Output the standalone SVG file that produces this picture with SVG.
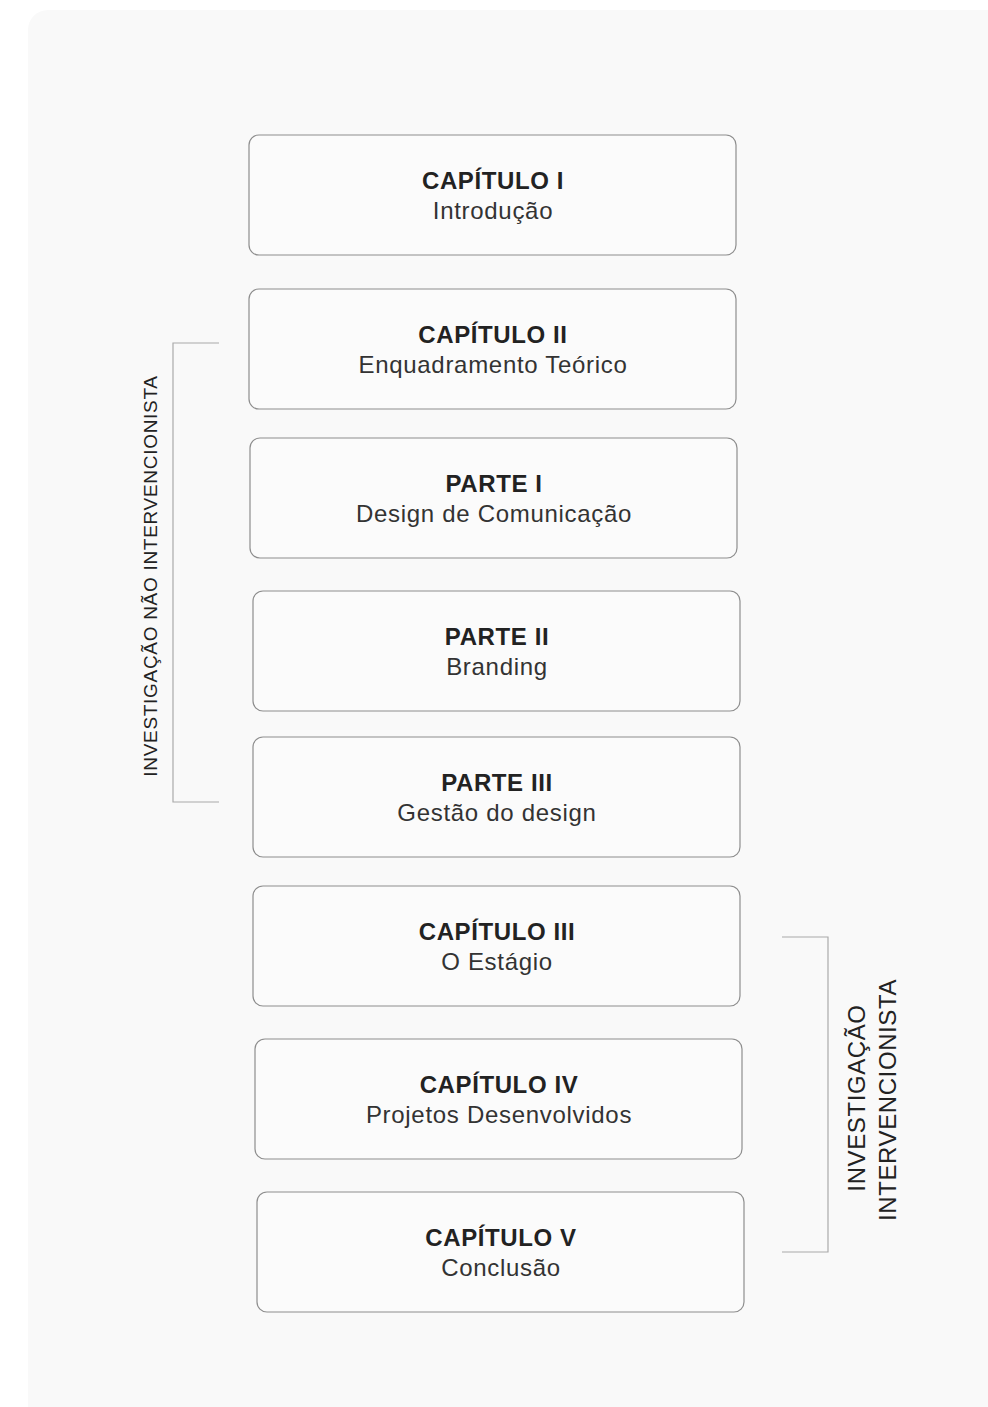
<svg xmlns="http://www.w3.org/2000/svg" width="988" height="1407" viewBox="0 0 988 1407">
<style>
.box{fill:#fbfbfb;stroke:#8e8e8e;stroke-width:1.2}
.t{font-family:"Liberation Sans",Arial,sans-serif;font-size:24px;font-weight:bold;fill:#222;text-anchor:middle;letter-spacing:0.6px}
.s{font-family:"Liberation Sans",Arial,sans-serif;font-size:24px;fill:#333;text-anchor:middle;letter-spacing:0.7px}
.br{fill:none;stroke:#aaa;stroke-width:1.2}
.lab{font-family:"Liberation Sans",Arial,sans-serif;fill:#222;text-anchor:middle}
</style>
<rect x="0" y="0" width="988" height="1407" fill="#ffffff"/>
<rect x="28" y="10" width="990" height="1430" rx="20" fill="#f9f9f9"/>
<g id="n1"><rect class="box" x="249" y="135" width="487" height="120" rx="10"/><text class="t" x="493" y="189">CAPÍTULO I</text><text class="s" x="493" y="219">Introdução</text></g>
<g id="n2"><rect class="box" x="249" y="289" width="487" height="120" rx="10"/><text class="t" x="493" y="343">CAPÍTULO II</text><text class="s" x="493" y="373">Enquadramento Teórico</text></g>
<g id="n3"><rect class="box" x="250" y="438" width="487" height="120" rx="10"/><text class="t" x="494" y="492">PARTE I</text><text class="s" x="494" y="522">Design de Comunicação</text></g>
<g id="n4"><rect class="box" x="253" y="591" width="487" height="120" rx="10"/><text class="t" x="497" y="645">PARTE II</text><text class="s" x="497" y="675">Branding</text></g>
<g id="n5"><rect class="box" x="253" y="737" width="487" height="120" rx="10"/><text class="t" x="497" y="791">PARTE III</text><text class="s" x="497" y="821">Gestão do design</text></g>
<g id="n6"><rect class="box" x="253" y="886" width="487" height="120" rx="10"/><text class="t" x="497" y="940">CAPÍTULO III</text><text class="s" x="497" y="970">O Estágio</text></g>
<g id="n7"><rect class="box" x="255" y="1039" width="487" height="120" rx="10"/><text class="t" x="499" y="1093">CAPÍTULO IV</text><text class="s" x="499" y="1123">Projetos Desenvolvidos</text></g>
<g id="n8"><rect class="box" x="257" y="1192" width="487" height="120" rx="10"/><text class="t" x="501" y="1246">CAPÍTULO V</text><text class="s" x="501" y="1276">Conclusão</text></g>
<g id="connectors">
<path class="br" d="M219 343 H173 V802 H219"/>
<path class="br" d="M782 937 H828 V1252 H782"/>
</g>
<g id="labelLeft"><text class="lab" font-size="19" letter-spacing="0.7" transform="translate(157 576) rotate(-90)">INVESTIGAÇÃO NÃO INTERVENCIONISTA</text></g>
<g id="labelRight"><text class="lab" font-size="24" letter-spacing="0.6" transform="translate(865 1098) rotate(-90)">INVESTIGAÇÃO</text><text class="lab" font-size="24" letter-spacing="0.6" transform="translate(896 1100) rotate(-90)">INTERVENCIONISTA</text></g>
</svg>
